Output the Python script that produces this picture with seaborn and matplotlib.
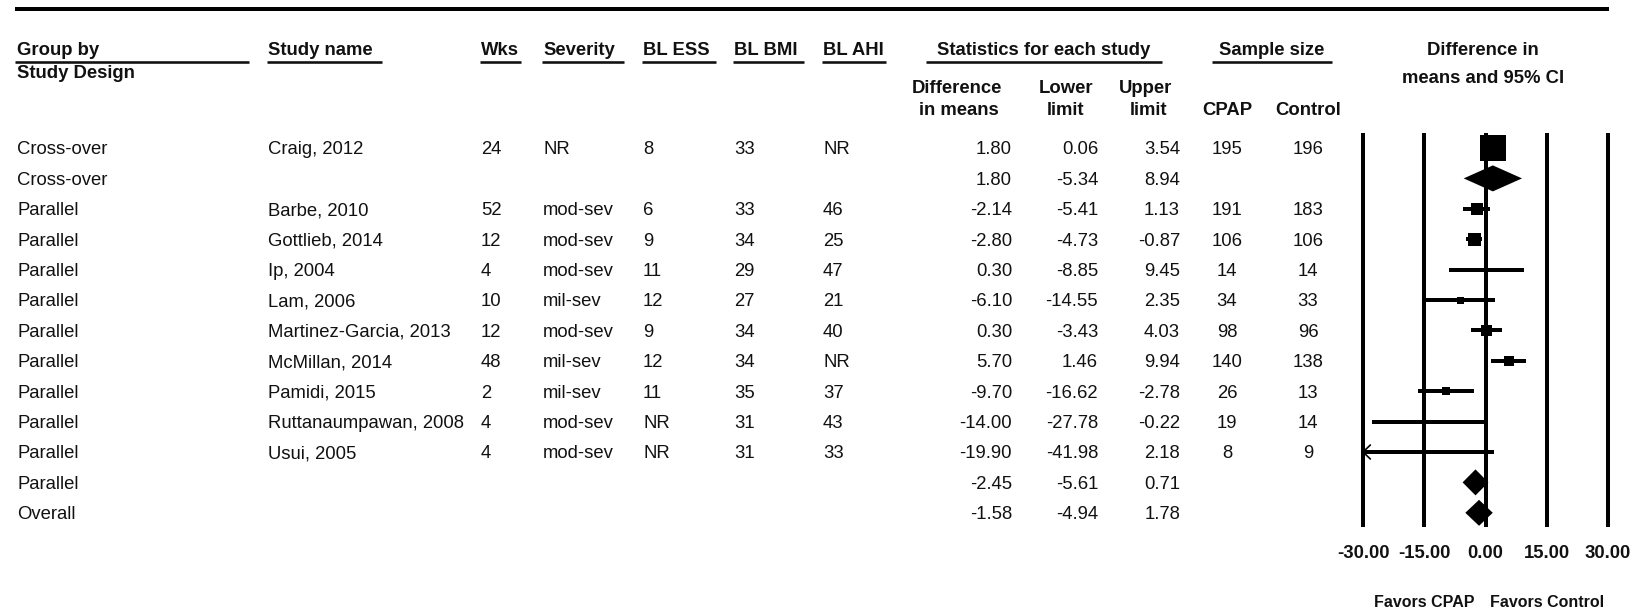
import numpy as np
import pandas as pd
import matplotlib
matplotlib.use("Agg")
import matplotlib.pyplot as plt
import seaborn as sns

# ---- study table -------------------------------------------------------
groups = ["Cross-over", "Cross-over", "Parallel", "Parallel", "Parallel",
          "Parallel", "Parallel", "Parallel", "Parallel", "Parallel",
          "Parallel", "Parallel", "Overall"]
studies = ["Craig, 2012", "", "Barbe, 2010", "Gottlieb, 2014", "Ip, 2004",
           "Lam, 2006", "Martinez-Garcia, 2013", "McMillan, 2014",
           "Pamidi, 2015", "Ruttanaumpawan, 2008", "Usui, 2005", "", ""]
weeks = ["24", "", "52", "12", "4", "10", "12", "48", "2", "4", "4", "", ""]
severity = ["NR", "", "mod-sev", "mod-sev", "mod-sev", "mil-sev", "mod-sev",
            "mil-sev", "mil-sev", "mod-sev", "mod-sev", "", ""]
bl_ess = ["8", "", "6", "9", "11", "12", "9", "12", "11", "NR", "NR", "", ""]
bl_bmi = ["33", "", "33", "34", "29", "27", "34", "34", "35", "31", "31", "", ""]
bl_ahi = ["NR", "", "46", "25", "47", "21", "40", "NR", "37", "43", "33", "", ""]
diff_means = [1.80, 1.80, -2.14, -2.80, 0.30, -6.10, 0.30, 5.70, -9.70,
              -14.00, -19.90, -2.45, -1.58]
lower_limit = [0.06, -5.34, -5.41, -4.73, -8.85, -14.55, -3.43, 1.46,
               -16.62, -27.78, -41.98, -5.61, -4.94]
upper_limit = [3.54, 8.94, 1.13, -0.87, 9.45, 2.35, 4.03, 9.94, -2.78,
               -0.22, 2.18, 0.71, 1.78]
n_cpap = [195, None, 191, 106, 14, 34, 98, 140, 26, 19, 8, None, None]
n_control = [196, None, 183, 106, 14, 33, 96, 138, 13, 14, 9, None, None]
is_summary = [False, True, False, False, False, False, False, False, False,
              False, False, True, True]
x_ticks = [-30, -15, 0, 15, 30]

# box side (px) for each study square, proportional to its weight
box_px = [26, 0, 12, 13, 4, 7, 11, 10, 8, 4, 3, 0, 0]

# ---- layout constants (pixels on a 1644 x 610 canvas) -----------------
W, H, DPI = 1644, 610, 100
ROW0, STEP = 148.0, 30.4
BASE = 6.5                     # text baseline below row centre
PT = 72.0 / DPI                # points per pixel
FS = 13.3
BLACK = "#111111"

sns.set_theme(style="white")
plt.rcParams["font.family"] = ["Liberation Sans", "DejaVu Sans"]

df = pd.DataFrame({
    "row": np.arange(len(groups)),
    "diff": diff_means, "lo": lower_limit, "hi": upper_limit,
    "summary": is_summary, "box": box_px,
})

fig = plt.figure(figsize=(W / DPI, H / DPI), dpi=DPI)
fig.patch.set_facecolor("white")

# full-canvas axes for the table part
tab = fig.add_axes([0, 0, 1, 1])
tab.set_xlim(0, W)
tab.set_ylim(H, 0)
tab.axis("off")


def row_base(i):
    return ROW0 + STEP * i + BASE


# top rule
tab.plot([15, 1609], [9, 9], color="black", lw=4 * PT, solid_capstyle="butt")

# header row 1 with underlines
hdr = [
    ("Group by", 17, "left", (15, 249)),
    ("Study name", 268, "left", (267, 382)),
    ("Wks", 481, "left", (480, 521)),
    ("Severity", 543, "left", (542, 624)),
    ("BL ESS", 643, "left", (642, 716)),
    ("BL BMI", 734, "left", (733, 804)),
    ("BL AHI", 823, "left", (822, 886)),
    ("Statistics for each study", 1044, "center", (926, 1162)),
    ("Sample size", 1272, "center", (1212, 1332)),
]
for txt, x, ha, (u0, u1) in hdr:
    tab.text(x, 55, txt, ha=ha, va="baseline", fontsize=FS,
             fontweight="bold", color=BLACK)
    tab.plot([u0, u1], [61.5, 61.5], color=BLACK, lw=2.6 * PT,
             solid_capstyle="butt")

tab.text(17, 78, "Study Design", ha="left", va="baseline", fontsize=FS,
         fontweight="bold", color=BLACK)
tab.text(1483, 55, "Difference in", ha="center", va="baseline", fontsize=FS,
         fontweight="bold", color=BLACK)
tab.text(1483, 83, "means and 95% CI", ha="center", va="baseline",
         fontsize=FS, fontweight="bold", color=BLACK)

sub = [("Difference", 957, 93), ("in means", 959, 115),
       ("Lower", 1066, 93), ("limit", 1065, 115),
       ("Upper", 1146, 93), ("limit", 1148, 115),
       ("CPAP", 1227, 115), ("Control", 1308, 115)]
for txt, x, y in sub:
    tab.text(x, y, txt, ha="center", va="baseline", fontsize=FS,
             fontweight="bold", color=BLACK)

# body rows
left_cols = [(groups, 17), (studies, 268), (weeks, 481), (severity, 543),
             (bl_ess, 643), (bl_bmi, 734), (bl_ahi, 823)]
for i in range(len(groups)):
    y = row_base(i)
    for col, x in left_cols:
        if col[i]:
            tab.text(x, y, col[i], ha="left", va="baseline", fontsize=FS,
                     color=BLACK)
    for col, x in [(diff_means, 1012), (lower_limit, 1098),
                   (upper_limit, 1180)]:
        tab.text(x, y, f"{col[i]:.2f}", ha="right", va="baseline",
                 fontsize=FS, color=BLACK)
    for col, x in [(n_cpap, 1227), (n_control, 1308)]:
        if col[i] is not None:
            tab.text(x, y, str(col[i]), ha="center", va="baseline",
                     fontsize=FS, color=BLACK)

# ---- forest plot -------------------------------------------------------
X0PX, X1PX, Y0PX, Y1PX = 1330, 1640, 133, 527
ZERO_PX, PX_PER_UNIT = 1485.5, 245.0 / 60.0
ax = fig.add_axes([X0PX / W, (H - Y1PX) / H, (X1PX - X0PX) / W,
                   (Y1PX - Y0PX) / H])
ax.patch.set_alpha(0)
ax.set_xlim((X0PX - ZERO_PX) / PX_PER_UNIT, (X1PX - ZERO_PX) / PX_PER_UNIT)
ax.set_ylim((Y1PX - ROW0) / STEP, (Y0PX - ROW0) / STEP)
xmin_disp, xmax_disp = min(x_ticks), max(x_ticks)

studies_df = df[~df["summary"]]
# confidence intervals
lo_clip = studies_df["lo"].clip(lower=xmin_disp)
ax.hlines(studies_df["row"], lo_clip, studies_df["hi"].clip(upper=xmax_disp),
          color="black", lw=4 * PT, zorder=3)
# arrow heads where the interval runs off the scale
for _, r in studies_df[studies_df["lo"] < xmin_disp].iterrows():
    ax.plot([xmin_disp + 1.8, xmin_disp, xmin_disp + 1.8],
            [r["row"] - 0.23, r["row"], r["row"] + 0.23],
            color="black", lw=1.2, zorder=4)

# weighted squares
areas = (studies_df["box"] * PT) ** 2
sns.scatterplot(x=studies_df["diff"], y=studies_df["row"], size=areas,
                sizes=(areas.min(), areas.max()),
                size_norm=(areas.min(), areas.max()),
                marker="s", color="black", linewidth=0, legend=False,
                ax=ax, zorder=5)

# pooled diamonds
half_h = 13.0 / STEP
for _, r in df[df["summary"]].iterrows():
    ax.fill([r["lo"], r["diff"], r["hi"], r["diff"]],
            [r["row"], r["row"] - half_h, r["row"], r["row"] + half_h],
            color="black", lw=0, zorder=5)

ax.set_xlabel("")
ax.set_ylabel("")
ax.set_xticks(x_ticks)
ax.set_xticklabels([f"{v:.2f}" for v in x_ticks], fontsize=FS,
                   fontweight="bold", color=BLACK)
ax.set_yticks([])
ax.tick_params(axis="x", length=0, pad=13)
ax.grid(True, axis="x", color="black", lw=4 * PT)
ax.grid(False, axis="y")
ax.set_axisbelow(True)
for s in ax.spines.values():
    s.set_visible(False)

for xv, txt in [(-15, "Favors CPAP"), (15, "Favors Control")]:
    ax.annotate(txt, xy=(xv, 0), xycoords=("data", "axes fraction"),
                xytext=(0, -80 * PT), textcoords="offset points",
                ha="center", va="baseline", fontsize=11.5,
                fontweight="bold", color=BLACK)

fig.savefig("out.png", dpi=DPI, facecolor="white")
